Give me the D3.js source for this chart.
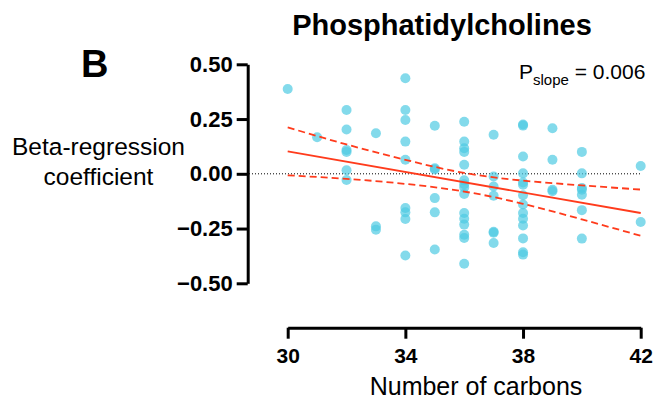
<!DOCTYPE html>
<html>
<head>
<meta charset="utf-8">
<script src="https://cdn.jsdelivr.net/npm/d3@7"></script>
<style>
  html, body { margin: 0; padding: 0; background: #fff; }
  svg { display: block; font-family: "Liberation Sans", Arial, Helvetica, sans-serif; }
</style>
</head>
<body>
<svg id="chart" width="657" height="407"></svg>
<script>
// ---- data ----
const carbons = [
  30,
  31,
  32, 32, 32, 32, 32, 32,
  33, 33, 33,
  34, 34, 34, 34, 34, 34, 34, 34, 34,
  35, 35, 35, 35, 35, 35,
  36, 36, 36, 36, 36, 36, 36, 36, 36, 36, 36, 36, 36, 36, 36,
  37, 37, 37, 37, 37, 37, 37,
  38, 38, 38, 38, 38, 38, 38, 38, 38, 38, 38, 38, 38, 38,
  39, 39, 39, 39,
  40, 40, 40, 40, 40, 40, 40,
  42, 42
];
const betas = [
  0.387,
  0.167,
  0.291, 0.202, 0.109, 0.100, 0.016, -0.028,
  0.185, -0.240, -0.255,
  0.436, 0.291, 0.246, 0.147, 0.064, -0.156, -0.176, -0.206, -0.373,
  0.219, 0.025, 0.020, -0.111, -0.176, -0.346,
  0.238, 0.147, 0.117, 0.100, 0.041, -0.030, -0.048, -0.062, -0.092, -0.179, -0.205, -0.232, -0.278, -0.293, -0.411,
  0.178, -0.012, -0.058, -0.100, -0.265, -0.269, -0.316,
  0.225, 0.220, 0.079, 0.002, -0.040, -0.050, -0.098, -0.140, -0.179, -0.205, -0.236, -0.295, -0.358, -0.369,
  0.208, 0.064, -0.073, -0.080,
  0.100, 0.002, -0.065, -0.073, -0.096, -0.166, -0.296,
  0.036, -0.220
];
// fitted line and 95% confidence band
const fitX = [30, 42];
const fitY = [0.102, -0.179];
const ciX = [30, 32, 34, 36, 38, 40, 42];
const ciUpper = [0.212, 0.134, 0.064, 0.004, -0.031, -0.053, -0.072];
const ciLower = [-0.007, -0.023, -0.046, -0.081, -0.137, -0.208, -0.283];

const xTicks = [30, 34, 38, 42];
const yTicks = [0.5, 0.25, 0, -0.25, -0.5];

const titleText = "Phosphatidylcholines";
const panelLabel = "B";
const yLabelLines = ["Beta-regression", "coefficient"];
const xLabel = "Number of carbons";

// ---- drawing ----
const svg = d3.select("#chart");
const x = d3.scaleLinear().domain([30, 42]).range([287.7, 640.7]);
const y = d3.scaleLinear().domain([-0.5, 0.5]).range([283.3, 64.3]);

const red = "#ff3b1c";

// zero reference line
svg.append("line")
  .attr("x1", 249).attr("x2", x(42))
  .attr("y1", y(0)).attr("y2", y(0))
  .attr("stroke", "#000").attr("stroke-width", 1)
  .attr("stroke-dasharray", "1,2");

// points
svg.append("g").selectAll("circle")
  .data(carbons.map((c, i) => [c, betas[i]]))
  .join("circle")
  .attr("cx", d => x(d[0]))
  .attr("cy", d => y(d[1]))
  .attr("r", 5)
  .attr("fill", "#4ecbe3")
  .attr("fill-opacity", 0.7);

// regression line
svg.append("line")
  .attr("x1", x(fitX[0])).attr("y1", y(fitY[0]))
  .attr("x2", x(fitX[1])).attr("y2", y(fitY[1]))
  .attr("stroke", red).attr("stroke-width", 1.8);

const ciLine = d3.line().x(d => x(d[0])).y(d => y(d[1])).curve(d3.curveNatural);
[ciUpper, ciLower].forEach(arr => {
  svg.append("path")
    .attr("d", ciLine(ciX.map((c, i) => [c, arr[i]])))
    .attr("fill", "none")
    .attr("stroke", red).attr("stroke-width", 1.8)
    .attr("stroke-dasharray", "7,4");
});

// y axis
const yAxis = svg.append("g")
  .attr("transform", "translate(247.7,0)")
  .call(d3.axisLeft(y).tickValues(yTicks).tickFormat(d3.format(".2f")).tickSize(11).tickSizeOuter(0));
yAxis.select(".domain").attr("stroke", "#000").attr("stroke-width", 3);
yAxis.selectAll(".tick line").attr("stroke", "#000").attr("stroke-width", 3);
yAxis.selectAll(".tick text")
  .attr("x", -15)
  .attr("font-family", "'Liberation Sans', Arial, sans-serif")
  .attr("font-size", 22).attr("font-weight", "bold").attr("fill", "#000");

// x axis
const xAxis = svg.append("g")
  .attr("transform", "translate(0,327.7)")
  .call(d3.axisBottom(x).tickValues(xTicks).tickFormat(d3.format("d")).tickSize(11).tickSizeOuter(0));
xAxis.select(".domain").attr("stroke", "#000").attr("stroke-width", 3);
xAxis.selectAll(".tick line").attr("stroke", "#000").attr("stroke-width", 3);
xAxis.selectAll(".tick text")
  .attr("y", 20)
  .attr("font-family", "'Liberation Sans', Arial, sans-serif")
  .attr("font-size", 21).attr("font-weight", "bold").attr("fill", "#000");

// title
svg.append("text")
  .attr("x", 442).attr("y", 35)
  .attr("text-anchor", "middle")
  .attr("font-size", 29).attr("font-weight", "bold")
  .text(titleText);

// panel label
svg.append("text")
  .attr("x", 81).attr("y", 77)
  .attr("font-size", 38).attr("font-weight", "bold")
  .text(panelLabel);

// y label
svg.append("text")
  .attr("text-anchor", "middle")
  .attr("font-size", 24.5)
  .selectAll("tspan")
  .data(yLabelLines)
  .join("tspan")
  .attr("x", 98.5)
  .attr("y", (d, i) => 155 + i * 30)
  .text(d => d);

// x label
svg.append("text")
  .attr("x", 476).attr("y", 395)
  .attr("text-anchor", "middle")
  .attr("font-size", 25)
  .text(xLabel);

// P slope annotation
const pt = svg.append("text")
  .attr("x", 519).attr("y", 79)
  .attr("font-size", 21);
pt.append("tspan").text("P");
pt.append("tspan").attr("font-size", 15).attr("dy", 6).text("slope");
pt.append("tspan").attr("dy", -6).text(" = 0.006");
</script>
</body>
</html>
